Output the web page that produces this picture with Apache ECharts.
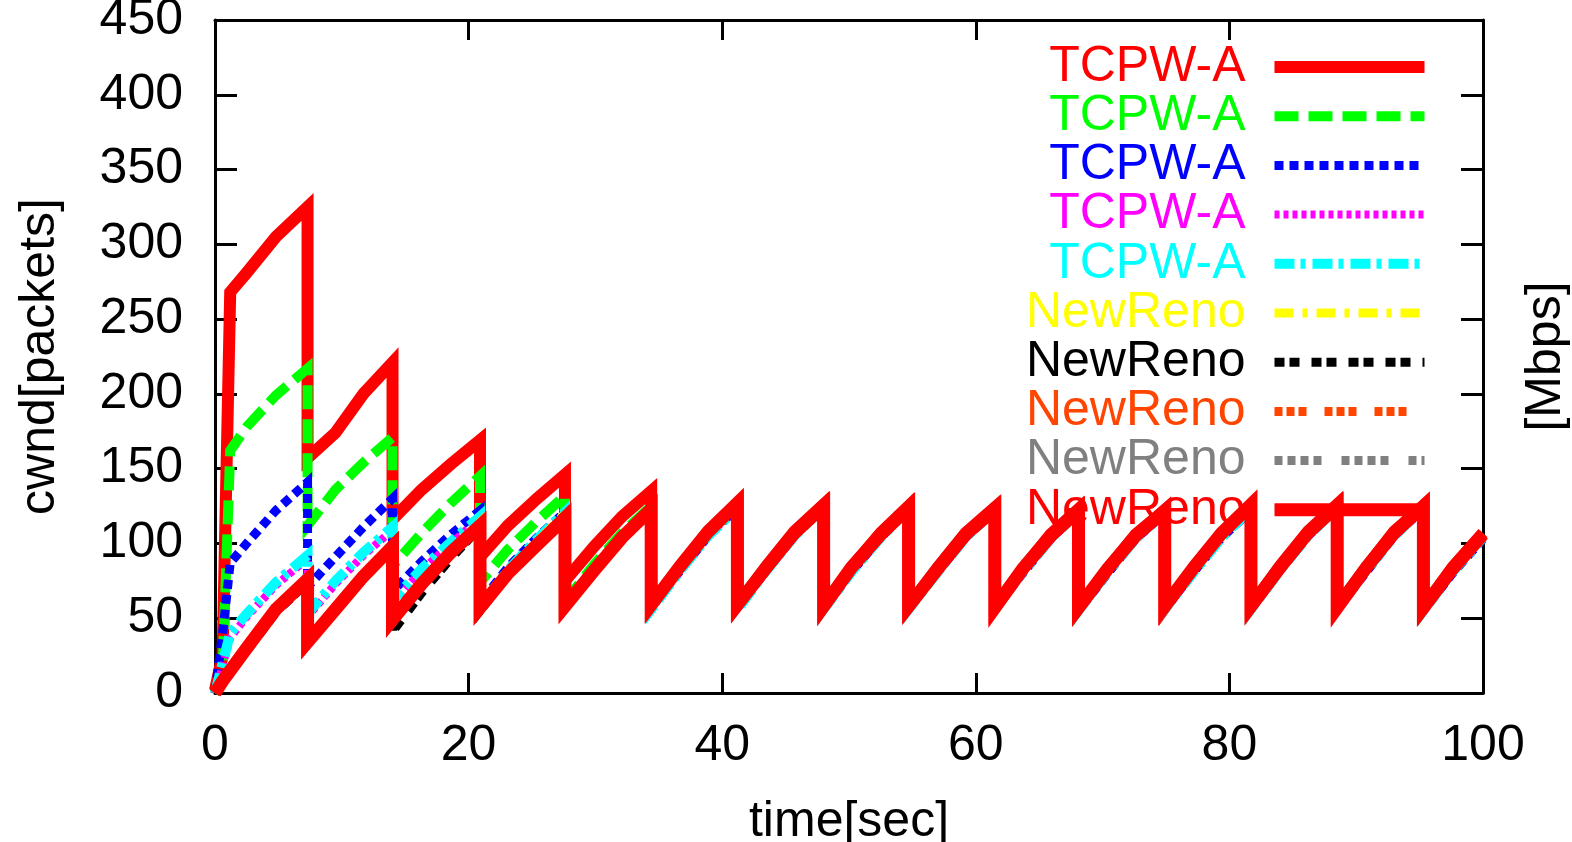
<!DOCTYPE html>
<html>
<head>
<meta charset="utf-8">
<script src="https://cdn.jsdelivr.net/npm/echarts@6/dist/echarts.min.js"></script>
<style>
  html, body { margin: 0; padding: 0; background: #fff; }
  #chart { width: 1572px; height: 842px; }
</style>
</head>
<body>
<div id="chart"></div>
<script>
// Sample times [sec]; repeated times are the instantaneous window drops.
const times = [
  0, 0.6, 1.2, 2.5, 4.8, 7.3,
  7.3, 9.5, 11.7, 14.0,
  14.0, 16.3, 18.6, 20.9,
  20.9, 23.1, 25.4, 27.6,
  27.6, 29.9, 32.1, 34.4,
  34.4, 36.7, 38.9, 41.2,
  41.2, 43.5, 45.7, 48.0,
  48.0, 50.2, 52.5, 54.7,
  54.7, 57.0, 59.2, 61.5,
  61.5, 63.7, 65.9, 68.1,
  68.1, 70.4, 72.6, 74.9,
  74.9, 77.2, 79.4, 81.7,
  81.7, 84.0, 86.2, 88.5,
  88.5, 90.8, 93.0, 95.3,
  95.3, 97.6, 100
];

// cwnd [packets] of each flow at the sample times above
const tcpwA1 = [
  2, 25, 268, 281, 305, 325,
  157, 174, 200, 221,
  116, 136, 153, 169,
  91, 112, 130, 146,
  75, 98, 118, 135,
  59, 85, 108, 127,
  59, 85, 108, 126,
  58, 84, 107, 125,
  58, 84, 107, 124,
  58, 83, 106, 123,
  57, 83, 106, 122,
  57, 84, 107, 124,
  58, 85, 108, 126,
  58, 84, 108, 125,
  57, 84, 107
];
const tcpwA2 = [
  0, 15, 162, 178, 199, 217,
  112, 136, 154, 171,
  85, 107, 127, 145,
  74, 96, 115, 132,
  61, 86, 107, 125,
  58, 84, 107, 125,
  58, 84, 107, 125,
  57, 83, 106, 124,
  57, 83, 106, 123,
  57, 82, 105, 122,
  56, 82, 105, 121,
  57, 83, 106, 123,
  57, 84, 107, 125,
  57, 83, 107, 124,
  56, 83, 106
];
const tcpwA3 = [
  0, 40, 87, 100, 122, 141,
  71, 91, 111, 130,
  68, 88, 106, 122,
  60, 84, 104, 121,
  58, 82, 104, 123,
  57, 82, 105, 124,
  57, 82, 105, 124,
  56, 81, 104, 123,
  56, 81, 104, 122,
  56, 80, 103, 121,
  55, 80, 103, 120,
  56, 81, 104, 122,
  56, 82, 105, 124,
  56, 81, 105, 123,
  55, 80, 103
];
const tcpwA4 = [
  0, 18, 37, 51, 72, 90,
  51, 73, 92, 109,
  60, 82, 100, 117,
  57, 81, 102, 120,
  57, 82, 104, 123,
  57, 82, 105, 124,
  57, 82, 105, 124,
  56, 82, 104, 123,
  56, 82, 104, 122,
  56, 81, 104, 121,
  56, 81, 104, 121,
  56, 82, 105, 123,
  57, 83, 106, 125,
  56, 82, 105, 124,
  56, 82, 104
];
const tcpwA5 = [
  0, 20, 40, 53, 74, 92,
  53, 75, 94, 111,
  62, 83, 101, 118,
  58, 82, 103, 121,
  57, 82, 104, 123,
  56, 82, 105, 124,
  56, 82, 105, 124,
  56, 81, 104, 123,
  56, 81, 104, 122,
  56, 81, 103, 121,
  55, 81, 103, 121,
  56, 81, 104, 123,
  56, 82, 105, 124,
  56, 82, 105, 124,
  55, 81, 104
];
const newReno1 = [
  0, 7, 14, 29, 55, 75,
  36, 58, 79, 99,
  50, 74, 95, 114,
  56, 80, 101, 120,
  58, 83, 105, 124,
  58, 84, 107, 126,
  58, 84, 107, 125,
  58, 83, 106, 124,
  57, 83, 106, 123,
  57, 83, 105, 122,
  57, 82, 105, 122,
  57, 83, 106, 125,
  58, 84, 107, 125,
  57, 84, 107, 125,
  57, 83, 106
];
const newReno2 = [
  0, 7, 14, 28, 54, 74,
  33, 55, 77, 97,
  41, 67, 90, 111,
  55, 79, 100, 119,
  57, 82, 104, 123,
  58, 84, 107, 126,
  58, 84, 106, 125,
  58, 83, 106, 124,
  57, 83, 105, 123,
  57, 82, 105, 122,
  57, 82, 105, 122,
  57, 83, 106, 124,
  58, 84, 107, 125,
  57, 84, 107, 125,
  57, 83, 106
];
const newReno3 = [
  0, 8, 15, 30, 55, 75,
  35, 57, 78, 98,
  48, 72, 93, 113,
  56, 80, 100, 119,
  57, 82, 104, 123,
  58, 84, 107, 126,
  58, 84, 107, 125,
  58, 83, 106, 124,
  57, 83, 105, 123,
  57, 83, 105, 122,
  57, 82, 105, 122,
  57, 83, 106, 125,
  58, 84, 107, 125,
  57, 84, 107, 125,
  57, 83, 106
];
const newReno4 = [
  0, 7, 15, 29, 56, 76,
  34, 56, 77, 97,
  49, 73, 93, 113,
  56, 81, 101, 119,
  57, 82, 104, 123,
  58, 84, 107, 126,
  58, 84, 107, 125,
  58, 83, 106, 124,
  57, 83, 106, 123,
  57, 83, 105, 122,
  57, 82, 105, 122,
  57, 83, 106, 125,
  58, 84, 107, 125,
  57, 84, 107, 125,
  57, 83, 106
];
const newReno5 = [
  0, 8, 15, 30, 56, 76,
  34, 56, 78, 98,
  49, 73, 94, 112,
  57, 80, 99, 117,
  58, 82, 104, 123,
  59, 85, 108, 127,
  59, 84, 107, 125,
  58, 84, 106, 124,
  58, 83, 106, 123,
  57, 83, 105, 122,
  57, 83, 105, 122,
  58, 84, 107, 126,
  58, 84, 107, 125,
  57, 84, 107, 125,
  57, 83, 106
];

const xTicks = { min: 0, max: 100, interval: 20 };
const yTicks = { min: 0, max: 450, interval: 50 };

const FONT = "'Liberation Sans', Arial, Helvetica, sans-serif";
const FS = 50;

// flow label, values, colour, stroke width, dash pattern
const flows = [
  { label: 'TCPW-A',  values: tcpwA1,   color: '#ff0000', width: 12, dash: 'solid' },
  { label: 'TCPW-A',  values: tcpwA2,   color: '#00ff00', width: 10, dash: [24, 10] },
  { label: 'TCPW-A',  values: tcpwA3,   color: '#0000ff', width: 9,  dash: [9, 6] },
  { label: 'TCPW-A',  values: tcpwA4,   color: '#ff00ff', width: 8,  dash: [5, 4] },
  { label: 'TCPW-A',  values: tcpwA5,   color: '#00ffff', width: 10, dash: [20, 6, 5, 7] },
  { label: 'NewReno', values: newReno1, color: '#ffff00', width: 9,  dash: [19, 9, 5, 9] },
  { label: 'NewReno', values: newReno2, color: '#000000', width: 9,  dash: [10, 5, 10, 12] },
  { label: 'NewReno', values: newReno3, color: '#ff4500', width: 9,  dash: [8, 4, 8, 4, 8, 18] },
  { label: 'NewReno', values: newReno4, color: '#808080', width: 9,  dash: [8, 5, 8, 5, 8, 5, 8, 20] },
  { label: 'NewReno', values: newReno5, color: '#ff0000', width: 13, dash: 'solid' }
];

// every flow needs its own legend entry, so ids carry an index that the legend hides
const seriesId = (f, i) => f.label + '#' + i;

const axisLine = { show: true, onZero: false, lineStyle: { color: '#000', width: 3 } };
const tick = len => ({ show: true, inside: true, length: len, lineStyle: { color: '#000', width: 3 } });
const labelStyle = { fontSize: FS, color: '#000', fontFamily: FONT };

const option = {
  animation: false,
  backgroundColor: '#ffffff',
  grid: { left: 215, right: 89, top: 20, bottom: 149, outerBoundsMode: 'none', containLabel: false },
  xAxis: [
    {
      type: 'value', position: 'bottom', ...xTicks,
      name: 'time[sec]', nameLocation: 'middle', nameGap: 104,
      nameTextStyle: labelStyle,
      axisLine, axisTick: tick(20),
      axisLabel: { ...labelStyle, margin: 28 },
      splitLine: { show: false }
    },
    {
      type: 'value', position: 'top', ...xTicks,
      axisLine, axisTick: tick(20),
      axisLabel: { show: false },
      splitLine: { show: false }
    }
  ],
  yAxis: [
    {
      type: 'value', position: 'left', ...yTicks,
      name: 'cwnd[packets]', nameLocation: 'middle', nameGap: 150, nameRotate: 90,
      nameTextStyle: labelStyle,
      axisLine, axisTick: tick(22),
      axisLabel: { ...labelStyle, margin: 32 },
      splitLine: { show: false }
    },
    {
      type: 'value', position: 'right', ...yTicks,
      name: '[Mbps]', nameLocation: 'middle', nameGap: 38, nameRotate: 90,
      nameTextStyle: labelStyle,
      axisLine, axisTick: tick(22),
      axisLabel: { show: false },
      splitLine: { show: false }
    }
  ],
  legend: {
    orient: 'vertical',
    right: 141,
    top: 42,
    padding: 0,
    align: 'right',
    itemWidth: 150,
    itemHeight: 14,
    itemGap: -0.8,
    selectedMode: false,
    itemStyle: { opacity: 0, borderWidth: 0 },
    textStyle: { fontSize: FS, fontFamily: FONT, lineHeight: 48, padding: [0, 24, 0, 0] },
    formatter: name => name.split('#')[0],
    data: flows.map((f, i) => ({
      name: seriesId(f, i),
      textStyle: { color: f.color },
      lineStyle: { color: f.color, width: f.width, type: f.dash, cap: 'butt' }
    }))
  },
  series: flows.map((f, i) => ({
    type: 'line',
    name: seriesId(f, i),
    xAxisIndex: 0,
    yAxisIndex: 0,
    symbol: 'none',
    data: times.map((t, k) => [t, f.values[k]]),
    lineStyle: { color: f.color, width: f.width, type: f.dash, cap: 'butt', join: 'miter' },
    itemStyle: { color: f.color },
    emphasis: { disabled: true },
    z: 2 + i
  }))
};

const chart = echarts.init(document.getElementById('chart'), null, { renderer: 'canvas' });
chart.setOption(option);
</script>
</body>
</html>
